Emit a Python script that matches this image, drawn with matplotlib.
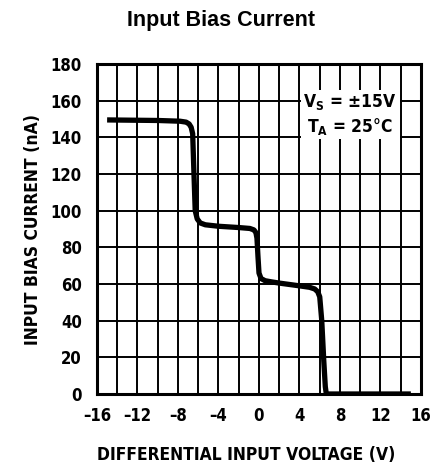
import matplotlib
matplotlib.use("Agg")
import matplotlib.pyplot as plt
from matplotlib import rcParams

# curve
volts = [-15.0, -10.0, -7.8, -7.2, -6.9, -6.7, -6.55, -6.45, -6.3, -6.1, -5.8, -5.3, -4.0,
         -2.0, -0.9, -0.5, -0.3, -0.2, -0.1, 0.0, 0.2, 0.6, 1.2, 2.0, 4.0, 5.0, 5.5,
         5.8, 6.0, 6.2, 6.4, 6.55, 6.65, 10.0, 15.0]
bias_na = [149.5, 149.2, 148.8, 148.3, 147.3, 145.5, 142.0, 125.0, 100.0, 95.5, 93.3, 92.3, 91.5,
           90.8, 90.3, 89.5, 88.0, 85.0, 75.0, 66.0, 63.0, 61.8, 61.2, 60.5, 59.0, 58.2, 57.3,
           55.8, 53.0, 40.0, 18.0, 4.0, 0.0, 0.0, 0.0]

x_ticks = [-16, -12, -8, -4, 0, 4, 8, 12, 16]
x_ticklabels = ["\u201316", "\u201312", "\u20138", "\u20134", "0", "4", "8", "12", "16"]
y_ticks = [0, 20, 40, 60, 80, 100, 120, 140, 160, 180]

rcParams["font.family"] = ["DejaVu Sans"]
rcParams["font.stretch"] = "condensed"
rcParams["font.weight"] = "bold"
rcParams["axes.labelweight"] = "bold"
rcParams["mathtext.fontset"] = "custom"
rcParams["mathtext.rm"] = "DejaVu Sans:weight=bold:stretch=condensed"
rcParams["mathtext.bf"] = "DejaVu Sans:weight=bold:stretch=condensed"

fig = plt.figure(figsize=(4.32, 4.70), dpi=100)
ax = fig.add_axes([0.2245, 0.1617, 0.75, 0.7021])

ax.set_xlim(-16, 16)
ax.set_ylim(0, 180)

# grid every 2 V and every 20 nA
for gx in range(-14, 16, 2):
    ax.axvline(gx, color="black", lw=1.4, zorder=1)
for gy in range(20, 180, 20):
    ax.axhline(gy, color="black", lw=1.4, zorder=1)

ax.plot(volts, bias_na, color="black", lw=3.8, solid_capstyle="butt",
        solid_joinstyle="round", zorder=3)

for s in ax.spines.values():
    s.set_linewidth(2.2)

ax.set_xticks(x_ticks)
ax.set_xticklabels(x_ticklabels)
ax.set_yticks(y_ticks)
ax.tick_params(length=0, labelsize=12, pad=0)
ax.tick_params(axis="y", pad=11)
ax.tick_params(axis="x", pad=9)

ax.set_ylabel("INPUT BIAS CURRENT (nA)", fontsize=12.5)
ax.yaxis.set_label_coords(-0.17, 0.5)
ax.set_xlabel("DIFFERENTIAL INPUT VOLTAGE (V)", fontsize=12.5)
ax.xaxis.set_label_coords(0.46, -0.158)

ax.text(9.0, 152.5, "$\\mathbf{V_S}$ = \u00b115V\n$\\mathbf{T_A}$ = 25\u00b0C",
        ha="center", va="center", fontsize=12.5, linespacing=1.2, zorder=4,
        bbox=dict(facecolor="white", edgecolor="none", pad=2))

fig.text(0.512, 0.957, "Input Bias Current", ha="center", va="center",
         fontsize=15.5, fontweight="bold", fontstretch="normal",
         family=["Liberation Sans", "DejaVu Sans"])

fig.savefig("out.png", dpi=100)
